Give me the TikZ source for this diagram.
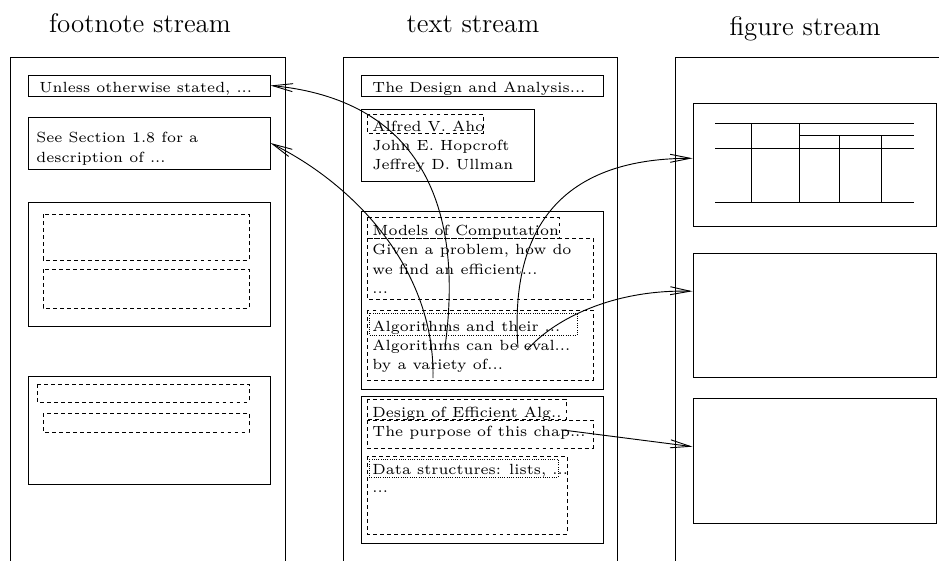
\documentclass[tikz,border=0pt]{standalone}
\usepackage{tikz}
\usetikzlibrary{arrows.meta, calc, fit}

\begin{document}
\begin{tikzpicture}[x=0.01528cm, y=-0.01528cm]
	% Define styles
	\tikzset{
		column/.style={draw, line width=0.4pt, inner sep=0pt},
		box/.style={draw, line width=0.4pt, inner sep=0pt},
		dbox/.style={draw, line width=0.4pt, dash pattern=on 1.7pt off 1.35pt},
		obox/.style={draw, line width=0.4pt, dash pattern=on 0.43pt off 0.55pt},
		txt/.style={anchor=base west, inner sep=0pt, font=\fontsize{6.4}{7.5}\selectfont},
		title/.style={anchor=base, inner sep=0pt, font=\fontsize{11.7}{14}\selectfont},
		line/.style={draw, line width=0.4pt, -{Straight Barb[length=0.305cm, width=0.122cm]}}
	}
	\useasboundingbox (0,0) rectangle (939,560);
	\clip (0,0) rectangle (939,560);

	% Streams
	\node[title] (foottitle) at (140,32) {footnote stream};
	\node[title] (texttitle) at (473,32) {text stream};
	\node[title] (figtitle) at (805,35) {figure stream};
	\node[column, fit={(10,57) (285,580)}] (footcol) {};
	\node[column, fit={(343,57) (617,580)}] (textcol) {};
	\node[column, fit={(675,57) (960,580)}] (figcol) {};

	% Footnote stream
	\node[box, fit={(28,75) (270,96)}] (fn1) {};
	\node[box, fit={(28,117) (270,169)}] (fn2) {};
	\node[box, fit={(28,202) (270,326)}] (fn3) {};
	\node[box, fit={(28,376) (270,484)}] (fn4) {};
	\node[txt] (fntext1) at (39,92) {Unless otherwise stated, ...};
	\node[txt] (fntext2) at (36,142) {See Section 1.8 for a};
	\node[txt] (fntext3) at (36,162) {description of ...};
	\draw[dbox] (43,214) rectangle (249,260);
	\draw[dbox] (43,269) rectangle (249,308);
	\draw[dbox] (37,384) rectangle (249,402);
	\draw[dbox] (43,413) rectangle (249,432);

	% Text stream
	\node[box, fit={(361,75) (603,96)}] (booktitle) {};
	\node[box, fit={(361,109) (534,181)}] (authors) {};
	\node[box, fit={(361,211) (603,389)}] (chap1) {};
	\node[box, fit={(361,396) (603,543)}] (chap2) {};
	\draw[dbox] (367,114) rectangle (483,133);
	\draw[dbox] (367,217) rectangle (559,238);
	\draw[dbox] (367,238) rectangle (593,299);
	\draw[dbox] (367,310) rectangle (593,380);
	\draw[obox] (369,313) rectangle (577,335);
	\draw[dbox] (367,399) rectangle (566,419);
	\draw[dbox] (367,420) rectangle (593,448);
	\draw[dbox] (367,456) rectangle (567,534);
	\draw[obox] (369,459) rectangle (558,477);

	\node[txt] (t1) at (372,92) {The Design and Analysis...};
	\node[txt] (a1) at (372,131) {Alfred V. Aho};
	\node[txt] (a2) at (372,150) {John E. Hopcroft};
	\node[txt] (a3) at (372,169) {Jeffrey D. Ullman};
	\node[txt] (s1) at (372,235) {Models of Computation};
	\node[txt] (p1) at (372,254) {Given a problem, how do};
	\node[txt] (p2) at (372,274) {we find an efficient...};
	\node[txt] (p3) at (372,293) {...};
	\node[txt] (ss1) at (372,331) {Algorithms and their ...};
	\node[txt] (p4) at (372,350) {Algorithms can be eval...};
	\node[txt] (p5) at (372,369) {by a variety of...};
	\node[txt] (s2) at (372,417) {Design of Efficient Alg..};
	\node[txt] (p6) at (372,436) {The purpose of this chap...};
	\node[txt] (ss2) at (372,474) {Data structures: lists, ...};
	\node[txt] (p7) at (372,492) {...};

	% Figure stream
	\node[box, fit={(693,103) (936,226)}] (fig1) {};
	\node[box, fit={(693,253) (936,377)}] (fig2) {};
	\node[box, fit={(693,398) (936,523)}] (fig3) {};
	\draw (715,123) -- (914,123);
	\draw (799,135) -- (914,135);
	\draw (715,148) -- (914,148);
	\draw (715,202) -- (914,202);
	\draw (751,123) -- (751,202);
	\draw (799,123) -- (799,202);
	\foreach \x in {839,881}
		\draw (\x,135) -- (\x,202);

	% Marks
	\coordinate (mark1) at (445,347);
	\coordinate (mark2) at (433,378);
	\coordinate (mark3) at (518,348);
	\coordinate (mark4) at (527,350);
	\coordinate (mark5) at (563,430);

	% Arrows
	\draw[line] (mark1) .. controls +(20,-147) and +(145,14) .. (fn1.east);
	\draw[line] (mark2) .. controls +(2,-108) and +(85,42) .. (fn2.east);
	\draw[line] (mark3) .. controls +(-10,-138) and +(-113,0) .. ($(fig1.north west)!0.45!(fig1.south west)$);
	\draw[line] (mark4) .. controls +(28,-32) and +(-78,-2) .. ($(fig2.north west)!0.31!(fig2.south west)$);
	\draw[line] (mark5) -- ($(fig3.north west)!0.39!(fig3.south west)$);
\end{tikzpicture}
\end{document}
